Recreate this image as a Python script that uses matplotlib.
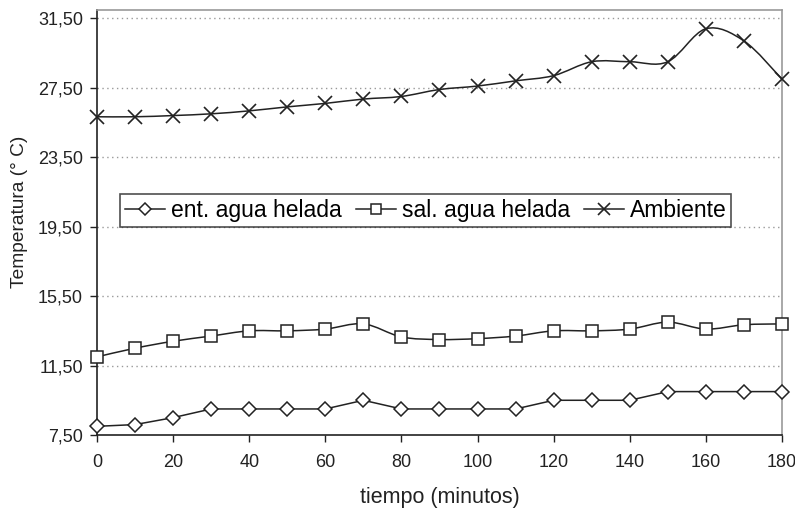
import numpy as np
import matplotlib
matplotlib.use('Agg')
import matplotlib.pyplot as plt
from matplotlib.path import Path
from matplotlib.patches import PathPatch
from matplotlib.lines import Line2D

plt.rcParams['font.family'] = ['Liberation Sans', 'DejaVu Sans']

# datos
tiempo = [0, 10, 20, 30, 40, 50, 60, 70, 80, 90, 100, 110, 120, 130, 140, 150, 160, 170, 180]
ent_agua = [8.0, 8.1, 8.5, 9.0, 9.0, 9.0, 9.0, 9.5, 9.0, 9.0, 9.0, 9.0, 9.5, 9.5, 9.5, 10.0, 10.0, 10.0, 10.0]
sal_agua = [12.0, 12.5, 12.9, 13.2, 13.5, 13.5, 13.6, 13.9, 13.15, 13.0, 13.05, 13.2, 13.5, 13.5, 13.6, 14.0, 13.6, 13.85, 13.9]
ambiente = [25.83, 25.83, 25.9, 26.0, 26.17, 26.4, 26.6, 26.85, 27.0, 27.4, 27.6, 27.9, 28.2, 29.0, 29.0, 29.0, 30.9, 30.2, 28.0]
y_ticks = [7.5, 11.5, 15.5, 19.5, 23.5, 27.5, 31.5]
x_ticks = [0, 20, 40, 60, 80, 100, 120, 140, 160, 180]

negro = '#222222'
gris = '#999999'


def curva_suave(ax, x, y, **kw):
    # curva tipo Excel (Catmull-Rom pasada a Bezier)
    x = np.asarray(x, float)
    y = np.asarray(y, float)
    px = np.concatenate([[x[0]], x, [x[-1]]])
    py = np.concatenate([[y[0]], y, [y[-1]]])
    verts = [(x[0], y[0])]
    codes = [Path.MOVETO]
    for a in range(1, len(x)):
        c1 = (px[a] + (px[a + 1] - px[a - 1]) / 6, py[a] + (py[a + 1] - py[a - 1]) / 6)
        c2 = (px[a + 1] - (px[a + 2] - px[a]) / 6, py[a + 1] - (py[a + 2] - py[a]) / 6)
        verts += [c1, c2, (px[a + 1], py[a + 1])]
        codes += [Path.CURVE4] * 3
    ax.add_patch(PathPatch(Path(verts, codes), fill=False, **kw))


fig = plt.figure(figsize=(7.95, 5.08), dpi=100)
ax = fig.add_axes([0.122, 0.1437, 0.8616, 0.8373])

ax.plot(tiempo, ent_agua, color=negro, lw=1.1, zorder=3)
curva_suave(ax, tiempo, sal_agua, edgecolor=negro, lw=1.1, zorder=3)
curva_suave(ax, tiempo, ambiente, edgecolor=negro, lw=1.1, zorder=3)

ax.plot(tiempo, ent_agua, ls='none', marker='D', ms=7, mfc='white', mec=negro, mew=1.1, zorder=4, clip_on=False)
ax.plot(tiempo, sal_agua, ls='none', marker='s', ms=8, mfc='white', mec=negro, mew=1.1, zorder=4, clip_on=False)
ax.plot(tiempo, ambiente, ls='none', marker='x', ms=9.5, mec=negro, mew=1.2, zorder=4, clip_on=False)

ax.set_xlim(0, 180)
ax.set_ylim(7.5, 32.0)
ax.set_xticks(x_ticks)
ax.set_yticks(y_ticks)
ax.set_yticklabels([f'{v:.2f}'.replace('.', ',') for v in y_ticks])
ax.tick_params(labelsize=13, colors=negro, length=5, width=1)
ax.tick_params(axis='x', pad=9)
ax.tick_params(axis='y', pad=5)

for v in y_ticks[1:]:
    ax.axhline(v, color=gris, lw=1, ls=(0, (1, 2.5)), zorder=1)

ax.spines['left'].set_color(negro)
ax.spines['bottom'].set_color(negro)
ax.spines['top'].set_color(gris)
ax.spines['right'].set_color(gris)
for s in ax.spines.values():
    s.set_linewidth(1.2)

ax.set_xlabel('tiempo (minutos)', fontsize=15.5, color=negro)
ax.xaxis.set_label_coords(0.5, -0.123)
ax.set_ylabel('Temperatura (° C)', fontsize=13.8, color=negro)
ax.yaxis.set_label_coords(-0.1, 0.524)

handles = [
    Line2D([], [], color=negro, lw=1.1, marker='D', ms=6, mfc='white', mec=negro, mew=1.1),
    Line2D([], [], color=negro, lw=1.1, marker='s', ms=7, mfc='white', mec=negro, mew=1.1),
    Line2D([], [], color=negro, lw=1.1, marker='x', ms=8.5, mec=negro, mew=1.2),
]
leg = fig.legend(handles, ['ent. agua helada', 'sal. agua helada', 'Ambiente'],
                 loc='lower left', bbox_to_anchor=(0.151, 0.553), ncol=3,
                 fontsize=16.5, frameon=True, fancybox=False, borderaxespad=0,
                 handlelength=1.75, handletextpad=0.26, columnspacing=0.6,
                 borderpad=0.22)
leg.get_frame().set_edgecolor(negro)
leg.get_frame().set_linewidth(1.2)

fig.savefig('out.png', dpi=100)
